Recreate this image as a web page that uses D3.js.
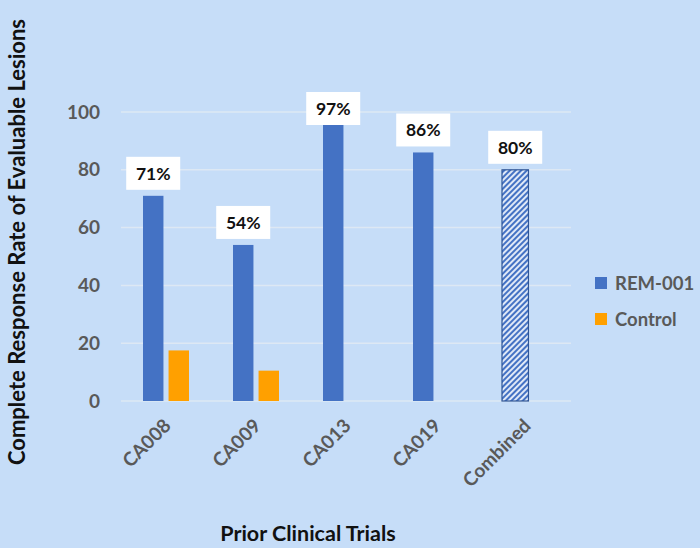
<!DOCTYPE html>
<html>
<head>
<meta charset="utf-8">
<script src="https://cdn.jsdelivr.net/npm/d3@7"></script>
<style>
  html, body { margin: 0; padding: 0; background: #c6ddf8; }
  svg { display: block; font-family: Lato, "Open Sans", sans-serif; }
</style>
</head>
<body>
<svg width="700" height="548"></svg>
<script>
// data
var trials = ["CA008", "CA009", "CA013", "CA019", "Combined"];
var series = ["REM-001", "Control"];
var remValues = [71, 54, 97, 86, 80];
var controlValues = [17.5, 10.5, null, null, null];
var labels = ["71%", "54%", "97%", "86%", "80%"];
var yTicks = [0, 20, 40, 60, 80, 100];
var colors = ["#4472c4", "#ffa000"];

var svg = d3.select("svg");
var plotLeft = 121, plotRight = 571, plotTop = 112, plotBottom = 401;

var x = d3.scaleBand().domain(trials).range([plotLeft, plotRight]);
var x1 = d3.scaleBand().domain(series).range([22, 68]).paddingInner(0.2);
var y = d3.scaleLinear().domain([0, 100]).range([plotBottom, plotTop]);

// hatch pattern for the combined bar
var defs = svg.append("defs");
var pat = defs.append("pattern")
	.attr("id", "hatch")
	.attr("width", 4).attr("height", 4)
	.attr("patternUnits", "userSpaceOnUse")
	.attr("patternTransform", "rotate(45)");
pat.append("rect").attr("width", 4).attr("height", 4).attr("fill", "#dfe8f7");
pat.append("rect").attr("width", 2).attr("height", 4).attr("fill", "#4472c4");

/* gridlines */
svg.append("g")
	.selectAll("line")
	.data(yTicks)
	.enter()
	.append("line")
	.attr("x1", plotLeft).attr("x2", plotRight)
	.attr("y1", function(d) { return y(d); })
	.attr("y2", function(d) { return y(d); })
	.attr("stroke", "#dde8f4")
	.attr("stroke-width", 1.5);

/* y axis labels */
var yAxis = svg.append("g")
	.attr("transform", "translate(" + (plotLeft - 21) + ",0)")
	.call(d3.axisLeft(y).tickValues(yTicks).tickSize(0).tickPadding(0));
yAxis.select(".domain").remove();
yAxis.selectAll("text")
	.attr("fill", "#595959")
	.attr("font-size", 19)
	.attr("font-weight", "bold")
	.attr("font-family", "Lato, sans-serif");

/* x axis labels */
var xAxis = svg.append("g")
	.attr("transform", "translate(0," + plotBottom + ")")
	.call(d3.axisBottom(x).tickSize(0).tickPadding(0));
xAxis.select(".domain").remove();
xAxis.selectAll("text")
	.attr("fill", "#595959")
	.attr("font-size", 19)
	.attr("font-weight", "bold")
	.attr("font-family", "Lato, sans-serif")
	.attr("text-anchor", "end")
	.attr("dy", null)
	.attr("transform", "translate(6,26) rotate(-45)");

/* bars */
var bars = svg.append("g");
bars.selectAll("rect.rem")
	.data(remValues)
	.enter()
	.append("rect")
	.attr("class", "rem")
	.attr("x", function(d, i) { return x(trials[i]) + x1("REM-001") - (i === 4 ? 1 : 0); })
	.attr("width", function(d, i) { return i === 4 ? x1.bandwidth() + 6 : x1.bandwidth(); })
	.attr("y", function(d) { return y(d); })
	.attr("height", function(d) { return plotBottom - y(d); })
	.attr("fill", function(d, i) { return i === 4 ? "url(#hatch)" : colors[0]; })
	.attr("stroke", function(d, i) { return i === 4 ? "#2f5597" : "none"; })
	.attr("stroke-width", 1.2);

bars.selectAll("rect.ctrl")
	.data(controlValues.filter(function(d) { return d !== null; }))
	.enter()
	.append("rect")
	.attr("class", "ctrl")
	.attr("x", function(d, i) { return x(trials[i]) + x1("Control"); })
	.attr("width", x1.bandwidth())
	.attr("y", function(d) { return y(d); })
	.attr("height", function(d) { return plotBottom - y(d); })
	.attr("fill", colors[1]);

/* value labels */
var lab = svg.append("g")
	.selectAll("g")
	.data(remValues)
	.enter()
	.append("g")
	.attr("transform", function(d, i) {
		var cx = x(trials[i]) + x1("REM-001") + x1.bandwidth() / 2 + (i === 4 ? 2 : 0);
		var by = Math.max(y(d) - 6, 125);
		return "translate(" + cx + "," + by + ")";
	});
lab.append("rect")
	.attr("x", -27).attr("y", -33)
	.attr("width", 54).attr("height", 33)
	.attr("fill", "#ffffff");
lab.append("text")
	.attr("y", -10)
	.attr("text-anchor", "middle")
	.attr("font-size", 17.5)
	.attr("font-weight", "bold")
	.attr("fill", "#111")
	.text(function(d, i) { return labels[i]; });

/* axis titles */
svg.append("text")
	.attr("transform", "translate(25,242) rotate(-90)")
	.attr("text-anchor", "middle")
	.attr("font-size", 22)
	.attr("font-weight", "bold")
	.attr("fill", "#111")
	.text("Complete Response Rate of Evaluable Lesions");

svg.append("text")
	.attr("x", 308).attr("y", 541)
	.attr("text-anchor", "middle")
	.attr("font-size", 21.5)
	.attr("font-weight", "bold")
	.attr("fill", "#111")
	.text("Prior Clinical Trials");

/* legend */
var leg = svg.append("g")
	.selectAll("g")
	.data(series)
	.enter()
	.append("g")
	.attr("transform", function(d, i) { return "translate(595," + (283 + i * 36) + ")"; });
leg.append("rect")
	.attr("x", 0).attr("y", -6)
	.attr("width", 12).attr("height", 12)
	.attr("fill", function(d, i) { return colors[i]; });
leg.append("text")
	.attr("x", 20).attr("y", 7)
	.attr("font-size", 18.5)
	.attr("font-weight", "bold")
	.attr("fill", "#595959")
	.text(function(d) { return d; });
</script>
</body>
</html>
